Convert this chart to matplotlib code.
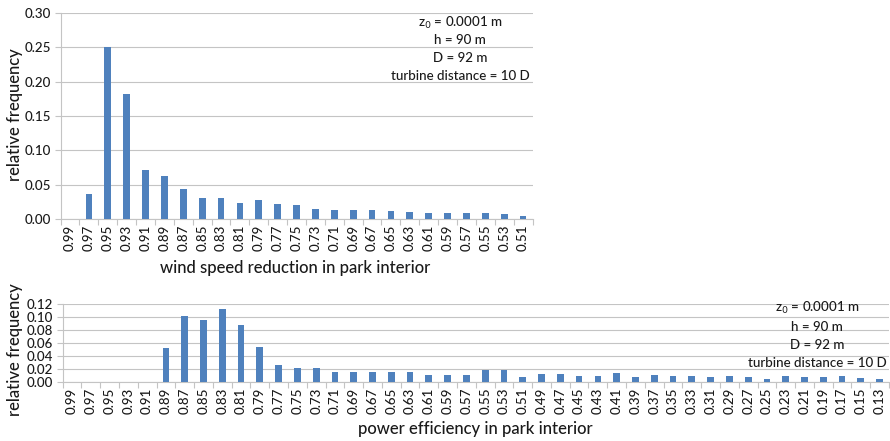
import matplotlib
matplotlib.use("Agg")
import matplotlib.pyplot as plt
import numpy as np

plt.rcParams['font.family'] = ['Lato', 'DejaVu Sans']

# Wind speed reduction histogram
ws_labels = ["0.99", "0.97", "0.95", "0.93", "0.91", "0.89", "0.87", "0.85", "0.83",
             "0.81", "0.79", "0.77", "0.75", "0.73", "0.71", "0.69", "0.67", "0.65",
             "0.63", "0.61", "0.59", "0.57", "0.55", "0.53", "0.51"]
ws_freq = [0.0, 0.036, 0.250, 0.182, 0.071, 0.062, 0.044, 0.030, 0.031,
           0.023, 0.027, 0.022, 0.020, 0.014, 0.013, 0.013, 0.013, 0.011,
           0.010, 0.009, 0.009, 0.009, 0.009, 0.007, 0.005]

# Power efficiency histogram
pe_labels = ["0.99", "0.97", "0.95", "0.93", "0.91", "0.89", "0.87", "0.85", "0.83",
             "0.81", "0.79", "0.77", "0.75", "0.73", "0.71", "0.69", "0.67", "0.65",
             "0.63", "0.61", "0.59", "0.57", "0.55", "0.53", "0.51", "0.49", "0.47",
             "0.45", "0.43", "0.41", "0.39", "0.37", "0.35", "0.33", "0.31", "0.29",
             "0.27", "0.25", "0.23", "0.21", "0.19", "0.17", "0.15", "0.13"]
pe_freq = [0.0, 0.0, 0.0, 0.0, 0.0, 0.053, 0.102, 0.096, 0.113,
           0.088, 0.054, 0.026, 0.021, 0.021, 0.016, 0.016, 0.016, 0.016,
           0.016, 0.011, 0.011, 0.011, 0.018, 0.018, 0.007, 0.013, 0.013,
           0.010, 0.010, 0.014, 0.008, 0.011, 0.009, 0.009, 0.007, 0.009,
           0.008, 0.005, 0.009, 0.008, 0.008, 0.009, 0.006, 0.004]

ws_ticks = [0.00, 0.05, 0.10, 0.15, 0.20, 0.25, 0.30]
pe_ticks = [0.00, 0.02, 0.04, 0.06, 0.08, 0.10, 0.12]

params = ["z$_0$ = 0.0001 m", "h = 90 m", "D = 92 m", "turbine distance = 10 D"]

BAR = "#4F81BD"
GRID = "#C4C4C4"
TXT = "#1A1A1A"
TICK_FS = 9.6
LABEL_FS = 12
PARAM_FS = 9.6

W, H = 890, 441
fig = plt.figure(figsize=(W / 100, H / 100), dpi=100)


def px_axes(x0, x1, ytop, ybot):
    return fig.add_axes([x0 / W, (H - ybot) / H, (x1 - x0) / W, (ybot - ytop) / H])


def draw(ax, labels, freq, yticks):
    x = np.arange(len(labels))
    ax.bar(x, freq, width=0.36, color=BAR, zorder=3)
    ax.set_xlim(-0.5, len(labels) - 0.5)
    ax.set_ylim(yticks[0], yticks[-1])
    ax.set_yticks(yticks)
    ax.set_yticklabels([f"{v:.2f}" for v in yticks], fontsize=TICK_FS, color=TXT,
                       fontweight="medium")
    ax.set_xticks(x)
    ax.set_xticklabels(labels, rotation=90, fontsize=TICK_FS, color=TXT,
                       fontweight="medium")
    ax.set_xticks(np.arange(-0.5, len(labels), 1.0), minor=True)
    ax.tick_params(axis='x', which='major', length=0, pad=4)
    ax.tick_params(axis='x', which='minor', length=4, color=GRID, width=0.8)
    ax.tick_params(axis='y', length=4, color=GRID, width=0.8, pad=3)
    ax.grid(axis='y', color=GRID, linewidth=0.8, zorder=0)
    for s in ("top", "right"):
        ax.spines[s].set_visible(False)
    for s in ("left", "bottom"):
        ax.spines[s].set_color(GRID)
        ax.spines[s].set_linewidth(0.8)
    ax.set_axisbelow(True)


ax1 = px_axes(60.6, 532.5, 13, 219)
draw(ax1, ws_labels, ws_freq, ws_ticks)
ax2 = px_axes(62.6, 889, 304, 382)
draw(ax2, pe_labels, pe_freq, pe_ticks)

# axis titles
fig.text(15 / W, 1 - 115 / H, "relative frequency", rotation=90, ha="center", va="center",
         fontsize=LABEL_FS, color=TXT, fontweight="medium")
fig.text(295 / W, 1 - 268 / H, "wind speed reduction in park interior", ha="center",
         va="center", fontsize=LABEL_FS, color=TXT, fontweight="medium")
fig.text(15 / W, 1 - 350 / H, "relative frequency", rotation=90, ha="center", va="center",
         fontsize=LABEL_FS, color=TXT, fontweight="medium")
fig.text(475 / W, 1 - 429 / H, "power efficiency in park interior", ha="center",
         va="center", fontsize=LABEL_FS, color=TXT, fontweight="medium")

# parameter boxes
for ys, xc in (([23, 40, 58, 76], 460), ([308, 327, 345, 363], 817)):
    for y, t in zip(ys, params):
        fig.text(xc / W, 1 - y / H, t, ha="center", va="center", fontsize=PARAM_FS,
                 color=TXT, fontweight="medium")

fig.savefig("out.png", dpi=100)
